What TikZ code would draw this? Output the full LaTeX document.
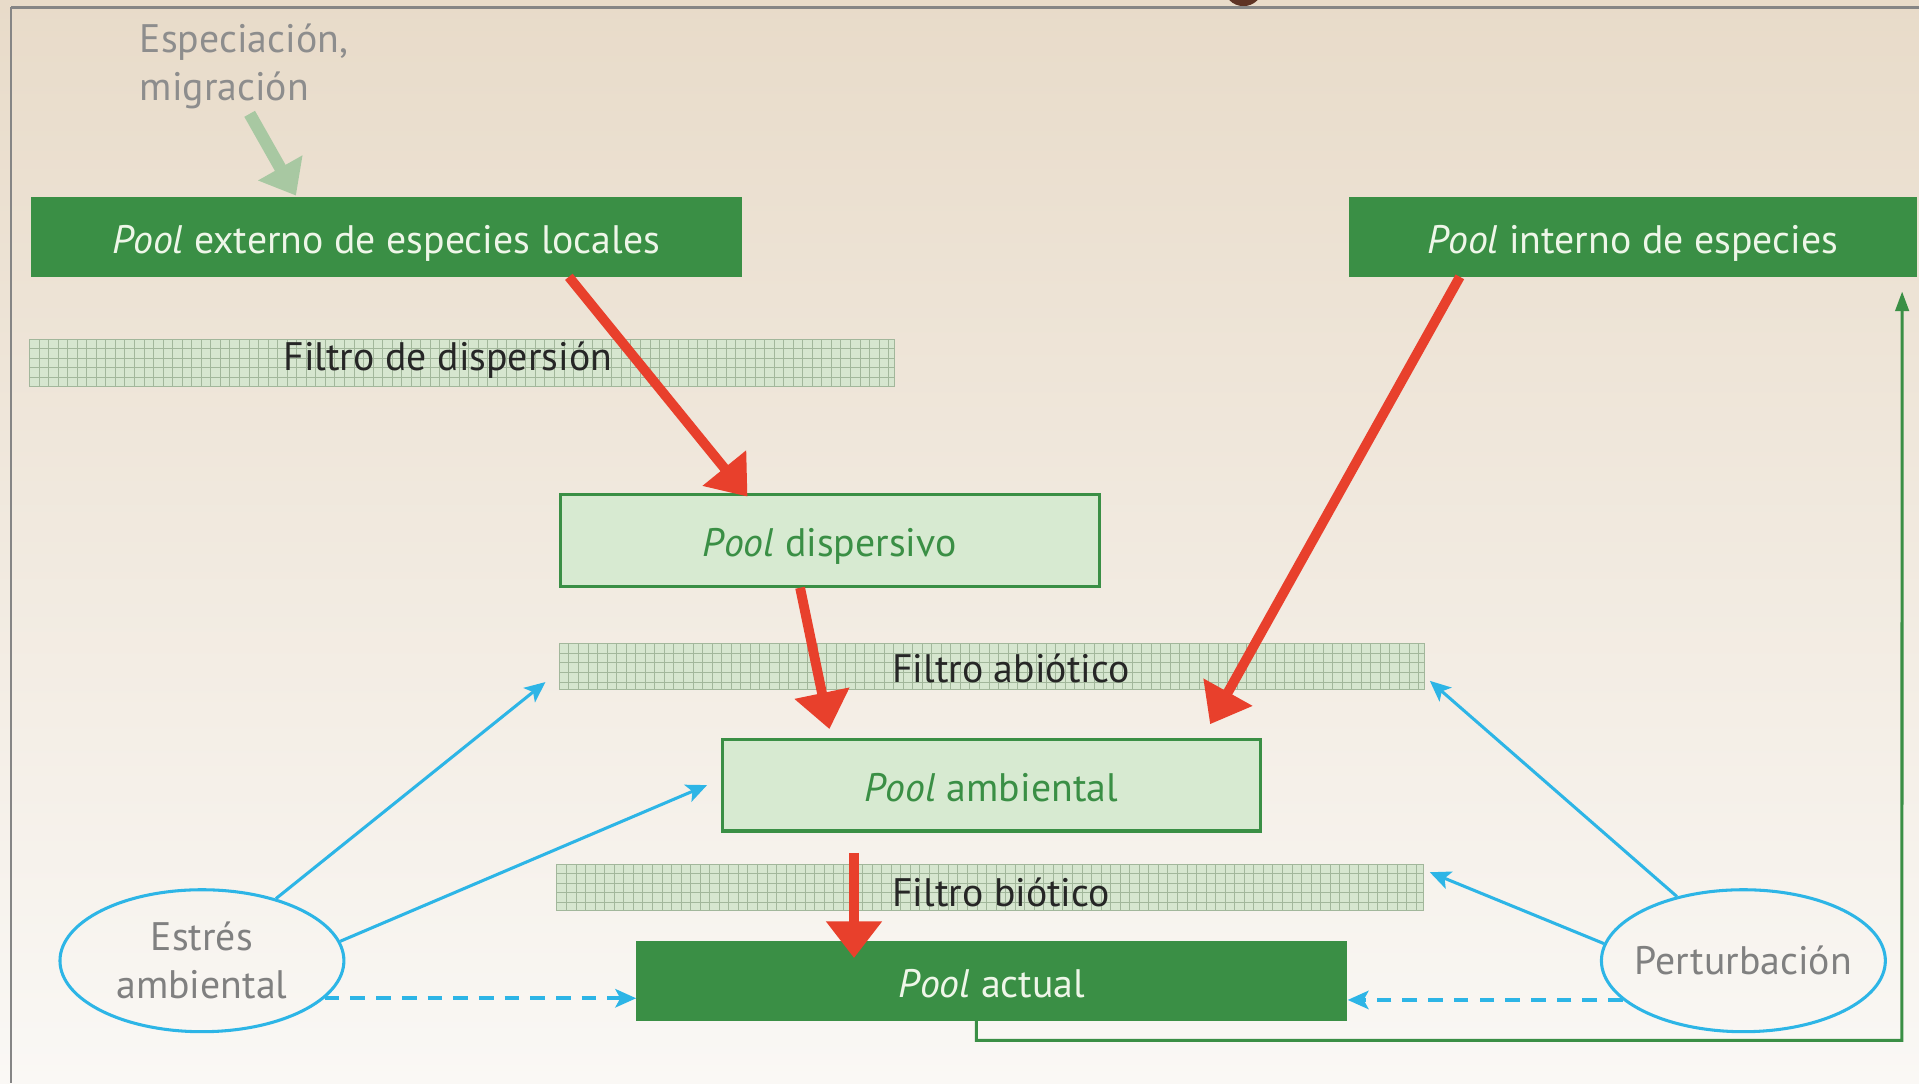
\documentclass[tikz,border=0pt]{standalone}
\usepackage{fontspec}
\setmainfont{PT Sans}
\usetikzlibrary{arrows.meta,shapes.geometric,calc}
\definecolor{dkgreen}{HTML}{3A8F45}
\definecolor{ltgreen}{HTML}{D7EAD1}
\definecolor{bandfill}{HTML}{D6E6CF}
\definecolor{gridcol}{HTML}{A2B79B}
\definecolor{redarr}{HTML}{E8402C}
\definecolor{bluearr}{HTML}{2DB5E6}
\definecolor{greytxt}{HTML}{808080}
\definecolor{palegreen}{HTML}{A8C8A2}
\definecolor{bgtop}{HTML}{E8DBC9}
\definecolor{bgbot}{HTML}{FAF8F5}
\definecolor{whitetxt}{HTML}{EEF6E8}
\definecolor{brown}{HTML}{5E3324}
\begin{document}
\begin{tikzpicture}[x=1pt,y=-1pt,
  every node/.style={font=\fontsize{32.5}{39}\selectfont},
  darkbox/.style={rectangle, fill=dkgreen, inner sep=0pt, text=whitetxt, text height=27pt, text depth=0pt},
  lightbox/.style={rectangle, fill=ltgreen, draw=dkgreen, line width=2.5pt, inner sep=0pt, text=dkgreen, text height=27pt, text depth=0pt},
  gridband/.style={rectangle, fill=bandfill, draw=gridcol, line width=0.6pt, inner sep=0pt,
    path picture={
      \foreach \k in {0,...,95}{\draw[gridcol,line width=0.6pt] ([xshift=\k*7.8pt]path picture bounding box.north west) -- ([xshift=\k*7.8pt]path picture bounding box.south west);}
      \foreach \k in {0,...,6}{\draw[gridcol,line width=0.6pt] ([yshift={-\k*7.8pt}]path picture bounding box.north west) -- ([yshift={-\k*7.8pt}]path picture bounding box.north east);}
    }},
  bandlabel/.style={text=black!85, inner sep=0pt},
  ellnode/.style={ellipse, draw=bluearr, line width=2.5pt, minimum width=232pt, minimum height=116pt, inner sep=0pt, text=greytxt, align=center},
  redarrow/.style={draw=redarr, line width=8pt, -{Triangle[length=30pt,width=44pt]}},
  bluearrow/.style={draw=bluearr, line width=2.5pt, -{Stealth[length=17pt,width=15pt,inset=4pt]}},
  bluedash/.style={bluearrow, line width=3pt, dash pattern=on 12pt off 9pt},
  fbline/.style={draw=dkgreen, line width=2.5pt, -{Triangle[length=16pt,width=11pt]}},
  palearrow/.style={draw=palegreen, line width=10pt, -{Triangle[length=26pt,width=40pt]}}
]
\useasboundingbox (0,0) rectangle (1568,885);
\begin{scope}
\clip (0,0) rectangle (1568,885);
\shade[top color=bgtop, bottom color=bgbot] (0,0) rectangle (1568,885);
\fill[brown] (1016,-11) circle (16);
\draw[black!48, line width=2pt] (9,6) -- (1568,6);
\draw[black!48, line width=1.5pt] (9,6) -- (9,885);
\end{scope}

% bands
\node[gridband, minimum width=707pt, minimum height=39pt] (fdisp) at (377.5,296.5) {};
\node[gridband, minimum width=707pt, minimum height=37pt] (fab) at (810.5,544.5) {};
\node[gridband, minimum width=708pt, minimum height=38pt] (fbio) at (809,725) {};
\node[bandlabel] (lfdisp) at (366,294) {Filtro de dispersión};
\node[bandlabel] (lfab) at (826,546) {Filtro abiótico};
\node[bandlabel] (lfbio) at (818,729) {Filtro biótico};

% boxes
\node[darkbox, minimum width=581pt, minimum height=65pt] (ext) at (315.5,193.5) {\textit{Pool} externo de especies locales};
\node[darkbox, minimum width=464pt, minimum height=65pt] (int) at (1334,193.5) {\textit{Pool} interno de especies};
\node[lightbox, minimum width=440pt, minimum height=75pt] (disp) at (678,441.5) {\textit{Pool} dispersivo};
\node[lightbox, minimum width=440pt, minimum height=75pt] (amb) at (810,641.5) {\textit{Pool} ambiental};
\node[darkbox, minimum width=581pt, minimum height=65pt] (act) at (810.5,801.5) {\textit{Pool} actual};

% ellipses
\node[ellnode] (est) at (165,785) {Estrés\\ambiental};
\node[ellnode] (per) at (1424.5,785) {\makebox[0pt]{Perturbación}};

% top label
\node[text=greytxt!90, align=left, anchor=west, inner sep=0pt] (spec) at (114,54) {Especiación,\\migración};

% pale green arrow
\coordinate (pa) at (204,93);
\draw[palearrow] (pa) -- ([xshift=217pt,yshift=1pt]ext.north west);

% red arrows
\draw[redarrow] ([xshift=440pt]ext.south west) -- ([xshift=154pt,yshift=-3pt]disp.north west);
\draw[redarrow] ([xshift=91pt]int.south west) -- ([xshift=400pt,yshift=11pt]amb.north west);
\draw[redarrow] ([xshift=197pt]disp.south west) -- ([xshift=89pt,yshift=7pt]amb.north west);
\draw[redarrow] ([xshift=178pt,yshift=72pt]act.north west) -- ([xshift=178pt,yshift=-14pt]act.north west);

% blue arrows
\draw[bluearrow] (est.40) -- ([xshift=-11pt,yshift=6pt]fab.south west);
\draw[bluearrow] (est.8) -- ([xshift=-11pt]amb.west);
\draw[bluedash] (est.-17) -- (est.-17 -| act.west);
\draw[bluearrow] (per.136) -- ([xshift=4pt,yshift=7pt]fab.south east);
\draw[bluearrow] (per.173) -- ([xshift=5pt,yshift=-7pt]fbio.north east);
\draw[bluedash] (per.-162) -- (per.-162 -| act.east);

% feedback line
\coordinate (fbc) at (1554,850);
\draw[fbline] ([xshift=278pt]act.south west) |- (fbc) -- ([xshift=-12pt,yshift=-12pt]int.south east);
\end{tikzpicture}
\end{document}
